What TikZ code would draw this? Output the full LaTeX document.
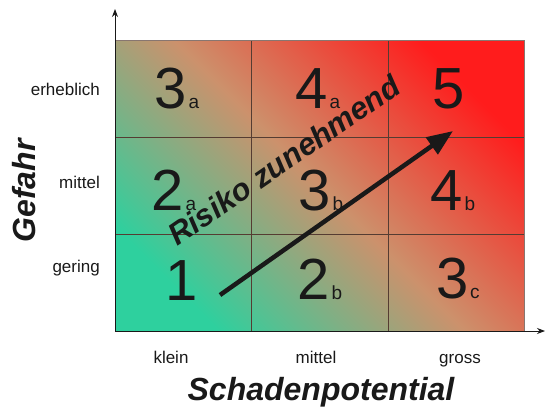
\documentclass[tikz,border=0pt]{standalone}
\usepackage{fontspec}
\setmainfont{Liberation Sans}
\usetikzlibrary{arrows.meta}
\definecolor{rgreen}{RGB}{46,208,158}
\definecolor{rmid}{RGB}{204,145,108}
\definecolor{rred}{RGB}{255,28,28}
\definecolor{gridline}{RGB}{85,60,50}
\definecolor{txt}{RGB}{25,25,25}
\pgfdeclareverticalshading{riskshade}{100bp}{color(0bp)=(rgreen); color(25bp)=(rgreen); color(50bp)=(rmid); color(75bp)=(rred); color(100bp)=(rred)}
\newcommand\subidx[1]{\hspace{1.5pt}{\fontsize{19}{19}\selectfont #1}}
\tikzset{
  digit/.style={font=\fontsize{58}{58}\selectfont, text=txt, anchor=base, inner sep=0pt},
  ticklabel/.style={font=\fontsize{17}{17}\selectfont, text=txt, inner sep=0pt},
  axistitle/.style={font=\fontsize{32}{32}\selectfont\bfseries\itshape, text=txt, inner sep=0pt, anchor=base},
  axisline/.style={draw=txt, line width=0.8pt, -{Stealth[length=8pt,width=6pt]}},
  gridl/.style={draw=gridline, line width=0.8pt},
  riskarrow/.style={draw=txt, line width=4.5pt, -{Triangle[length=26pt,width=20pt]}},
  risktext/.style={font=\fontsize{31}{31}\selectfont\bfseries\itshape, text=txt, inner sep=0pt}
}
\begin{document}
\begin{tikzpicture}[x=1pt,y=-1pt]
\useasboundingbox (0,0) rectangle (545,408);
% background field
\shade[shading=riskshade, shading angle=-45] (115,40) rectangle (524,331);
\draw[gridl] (251,40) -- (251,331) (388,40) -- (388,331)
  (115,137) -- (524,137) (115,234) -- (524,234);
\draw[draw=gridline!70, line width=0.6pt] (115,40) rectangle (524,331);
% axes
\coordinate (o) at (115,331);
\coordinate (ytip) at (115,9);
\coordinate (xtip) at (545,331);
\draw[axisline] (o) -- (ytip);
\draw[axisline] (o) -- (xtip);
% cell values
\node[digit] (c11) at (177,108) {3\subidx{a}};
\node[digit] (c12) at (318,108) {4\subidx{a}};
\node[digit] (c13) at (449,108) {5};
\node[digit] (c21) at (174,210) {2\subidx{a}};
\node[digit] (c22) at (321,210) {3\subidx{b}};
\node[digit] (c23) at (453,210) {4\subidx{b}};
\node[digit] (c31) at (182,300) {1};
\node[digit] (c32) at (320,299) {2\subidx{b}};
\node[digit] (c33) at (458,298) {3\subidx{c}};
% tick labels
\node[ticklabel, anchor=base east] (yl3) at (100,95) {erheblich};
\node[ticklabel, anchor=base east] (yl2) at (100,188) {mittel};
\node[ticklabel, anchor=base east] (yl1) at (100,272) {gering};
\node[ticklabel, anchor=base] (xl1) at (171,363) {klein};
\node[ticklabel, anchor=base] (xl2) at (316,363) {mittel};
\node[ticklabel, anchor=base] (xl3) at (460,363) {gross};
% axis titles
\node[axistitle] (xt) at (321,400) {Schadenpotential};
\node[axistitle, rotate=90] (yt) at (35,191) {Gefahr};
% risk arrow
\coordinate (as) at (220,295);
\coordinate (ae) at (453,131);
\draw[riskarrow] (as) -- (ae);
\node[risktext, rotate=34.5] (risk) at (284,160) {Risiko zunehmend};
\end{tikzpicture}
\end{document}
